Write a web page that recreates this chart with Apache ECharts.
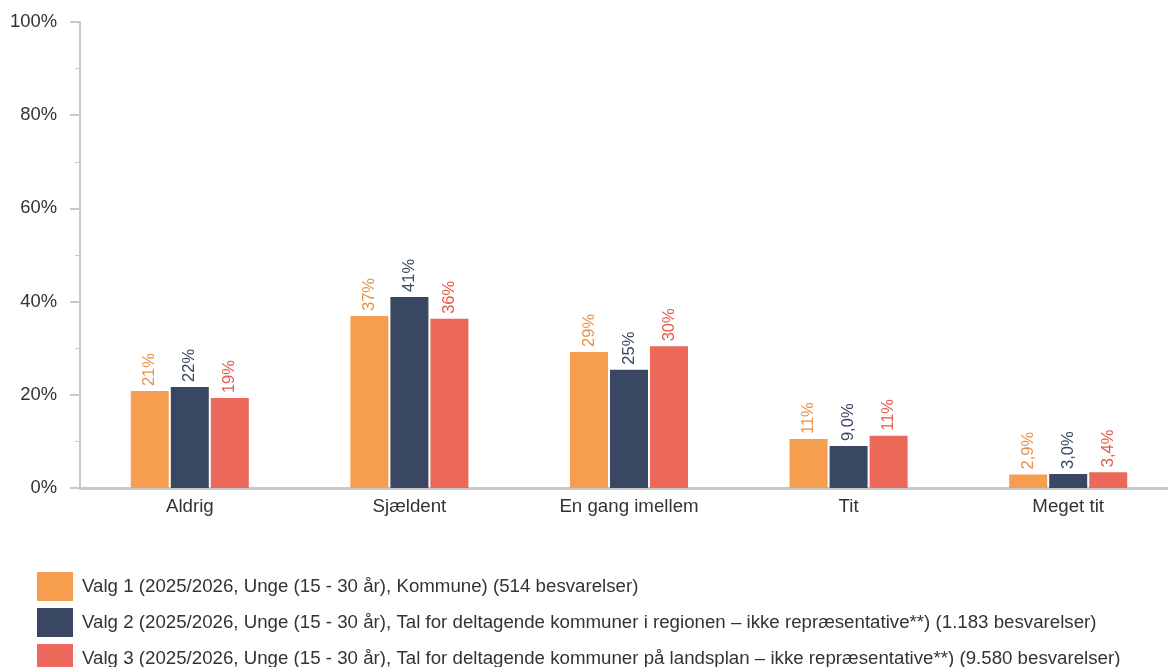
<!DOCTYPE html>
<html>
<head>
<meta charset="utf-8">
<script src="https://cdn.jsdelivr.net/npm/echarts@6/dist/echarts.min.js"></script>
<style>html,body{margin:0;padding:0;background:#fff}#c{width:1168px;height:667px}</style>
</head>
<body>
<div id="c"></div>
<script>
const categories = ['Aldrig', 'Sjældent', 'En gang imellem', 'Tit', 'Meget tit'];
const seriesNames = [
  'Valg 1 (2025/2026, Unge (15 - 30 år), Kommune) (514 besvarelser)',
  'Valg 2 (2025/2026, Unge (15 - 30 år), Tal for deltagende kommuner i regionen – ikke repræsentative**) (1.183 besvarelser)',
  'Valg 3 (2025/2026, Unge (15 - 30 år), Tal for deltagende kommuner på landsplan – ikke repræsentative**) (9.580 besvarelser)'
];
const valg1 = [20.8, 36.9, 29.2, 10.5, 2.9];
const valg2 = [21.7, 41.0, 25.4, 9.0, 3.0];
const valg3 = [19.3, 36.3, 30.4, 11.2, 3.4];
const colors = ['#F59E4F', '#394763', '#EB685A'];
const labelColors = ['#E8914A', '#394763', '#E5584A'];

function fmt(v) {
  if (v < 10) return v.toFixed(1).replace('.', ',') + '%';
  return Math.round(v) + '%';
}

const chart = echarts.init(document.getElementById('c'));
const data = [valg1, valg2, valg3];
chart.setOption({
  animation: false,
  textStyle: { fontFamily: 'Liberation Sans, Arial, sans-serif' },
  grid: { left: 80, width: 1098, top: 22, bottom: 179, outerBoundsMode: 'none', containLabel: false },
  legend: {
    orient: 'vertical', left: 37, top: 572, height: 140, padding: 0,
    itemWidth: 36, itemHeight: 29, itemGap: 7,
    icon: 'rect',
    textStyle: { fontSize: 18.7, color: '#333', padding: [0, 0, 0, 4] },
    selectedMode: false
  },
  xAxis: {
    type: 'category', data: categories,
    axisLine: { lineStyle: { color: '#c8c8c8', width: 3 } },
    axisTick: { show: false },
    axisLabel: { fontSize: 18.7, color: '#333', margin: 9 }
  },
  yAxis: {
    type: 'value', min: 0, max: 100, interval: 20,
    axisLine: { show: true, lineStyle: { color: '#c8c8c8', width: 2 } },
    axisTick: { show: true, length: 10, lineStyle: { color: '#c8c8c8', width: 2 } },
    minorTick: { show: true, splitNumber: 2, length: 5, lineStyle: { color: '#c8c8c8', width: 1 } },
    splitLine: { show: false },
    axisLabel: { fontSize: 18.4, color: '#333', margin: 23, formatter: v => v + '%' }
  },
  series: data.map((d, i) => ({
    name: seriesNames[i], type: 'bar', data: d,
    barWidth: 38, barGap: '5.3%',
    itemStyle: { color: colors[i] },
    label: {
      show: true, position: 'top', rotate: 90, align: 'left', verticalAlign: 'middle',
      distance: 5, fontSize: 16.5, color: labelColors[i],
      formatter: p => fmt(p.value)
    }
  }))
});
</script>
</body>
</html>
